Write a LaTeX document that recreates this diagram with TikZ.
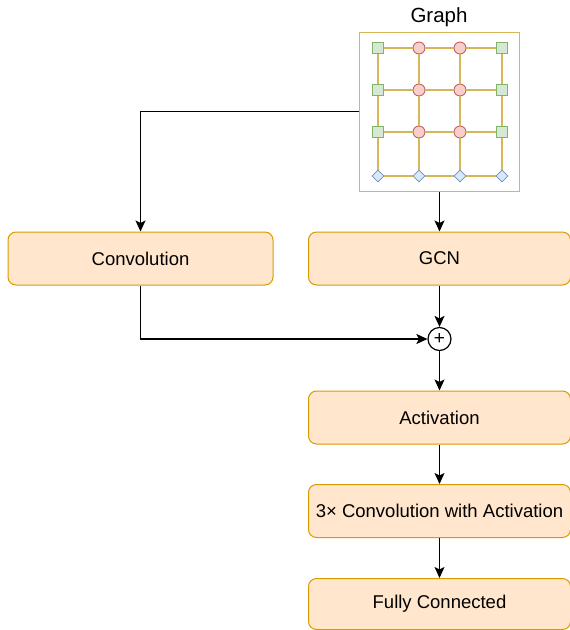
\documentclass[tikz,border=0pt]{standalone}
\usepackage{fontspec}
\setmainfont{Liberation Sans}
\usetikzlibrary{arrows.meta,shapes.geometric}
\definecolor{blockFill}{HTML}{FFE6CC}
\definecolor{blockLine}{HTML}{D79B00}
\definecolor{graphLine}{HTML}{D6B656}
\definecolor{greenFill}{HTML}{D5E8D4}
\definecolor{greenLine}{HTML}{82B366}
\definecolor{redFill}{HTML}{F8CECC}
\definecolor{redLine}{HTML}{B85450}
\definecolor{blueFill}{HTML}{DAE8FC}
\definecolor{blueLine}{HTML}{6C8EBF}
\begin{document}
\begin{tikzpicture}
[x=1pt,y=-1pt,
  blockDecorate/.style={draw=blockLine,fill=blockFill,line width=1pt,rounded corners=8pt,%
    minimum width=262pt,minimum height=53pt,inner sep=0pt,font=\fontsize{18.5}{22}\selectfont},%
  arrowDecorate/.style={-{Stealth[length=11pt,width=10pt,inset=2.5pt]},line width=1.2pt},%
  lineDecorate/.style={-,draw=graphLine,line width=1.2pt},%
  squareDecorate/.style={shape=rectangle,draw=greenLine,fill=greenFill,line width=0.8pt,minimum size=11pt,inner sep=0pt},%
  circleDecorate/.style={shape=circle,draw=redLine,fill=redFill,line width=0.8pt,minimum size=12pt,inner sep=0pt},%
  diamondDecorate/.style={shape=diamond,draw=blueLine,fill=blueFill,line width=0.8pt,minimum size=12pt,inner sep=0pt}]
\useasboundingbox (0,0) rectangle (570,630);
%% graph
\node (title) at (439,17) {\fontsize{20.5}{24}\selectfont Graph};
\node (graph) at (439.5,111.5) [draw=graphLine,fill=white,line width=1pt,minimum width=160pt,minimum height=159pt] {};
\foreach \row/\y in {0/48, 1/90, 2/132}
{
  \foreach \col/\x/\kind in {0/378/square, 1/419/circle, 2/460/circle, 3/502/square}
    \node (g\row\col) at (\x,\y) [\kind Decorate] {};
}
\foreach \col/\x in {0/378, 1/419, 2/460, 3/502}
  \node (g3\col) at (\x,176) [diamondDecorate] {};
\foreach \a/\b in {0/1, 1/2, 2/3}
{
  \foreach \r in {0,1,2,3}
    \draw[lineDecorate] (g\r\a) -- (g\r\b);
  \foreach \c in {0,1,2,3}
    \draw[lineDecorate] (g\a\c) -- (g\b\c);
}
%% blocks
\node (conv) at (140.5,258.5) [blockDecorate,minimum width=265pt] {Convolution};
\node (gcn) at (439.5,258.5) [blockDecorate] {GCN};
\node (plus) at (439.5,339) [shape=circle,draw,line width=1.2pt,minimum size=23pt,inner sep=0pt,font=\fontsize{19}{19}\selectfont] {+};
\node (act) at (439.5,417.5) [blockDecorate] {Activation};
\node (conv3) at (439.5,511) [blockDecorate] {3\texttimes{} Convolution with Activation};
\node (fc) at (439.5,604) [blockDecorate,minimum height=51pt] {Fully Connected};
%% connectors
\draw[arrowDecorate] (graph.west) -| (conv.north);
\draw[arrowDecorate] (graph.south) -- (gcn.north);
\draw[arrowDecorate] (conv.south) |- (plus.west);
\draw[arrowDecorate] (gcn.south) -- (plus.north);
\draw[arrowDecorate] (plus.south) -- (act.north);
\draw[arrowDecorate] (act.south) -- (conv3.north);
\draw[arrowDecorate] (conv3.south) -- (fc.north);
\end{tikzpicture}
\end{document}
